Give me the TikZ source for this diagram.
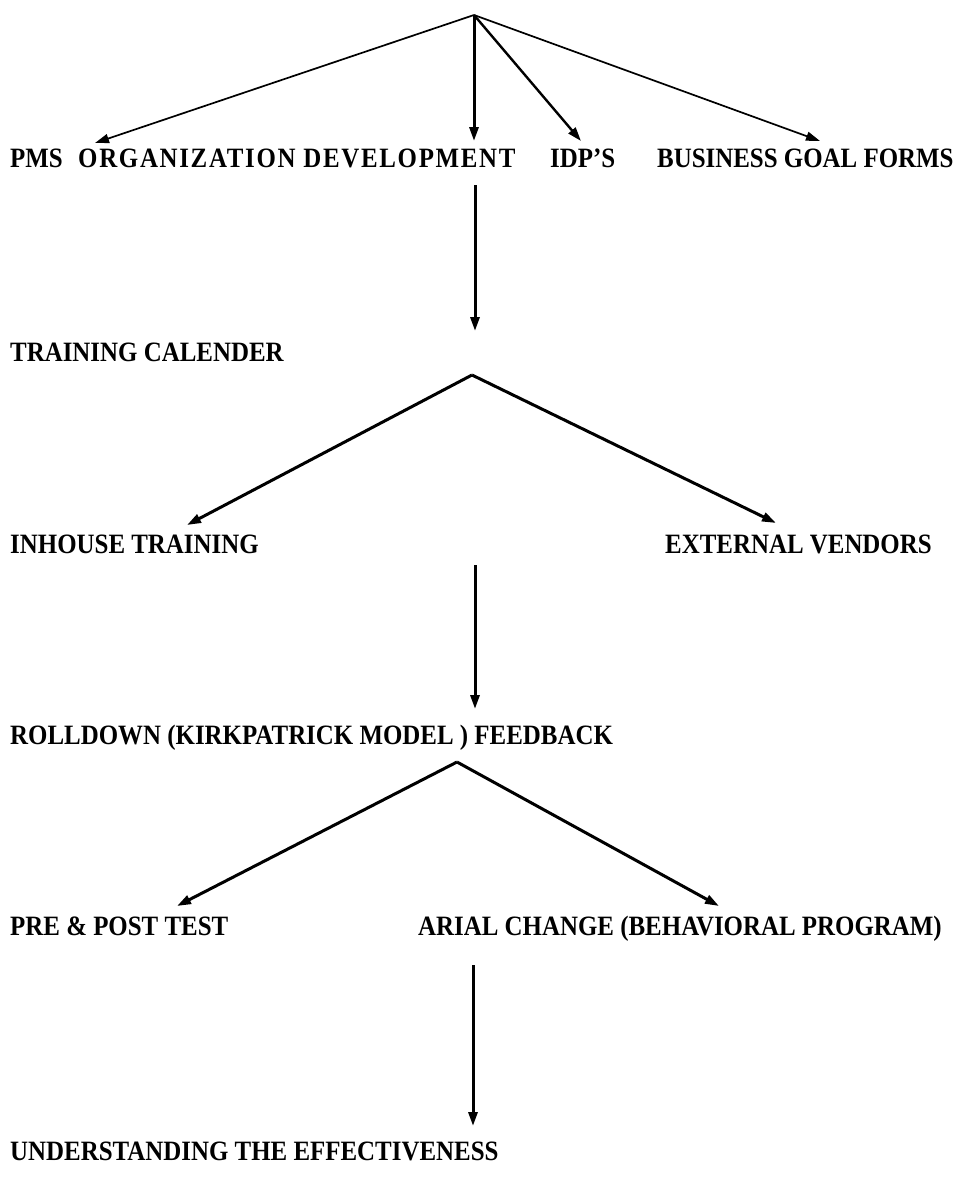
\documentclass[tikz,border=0pt]{standalone}
\usepackage{fontspec}
\setmainfont{Liberation Serif}[FakeStretch=0.89]
\usetikzlibrary{arrows.meta}
\begin{document}
\begin{tikzpicture}[x=1pt,y=-1pt,
  lbl/.style={anchor=base west,inner sep=0pt,font=\fontsize{28}{32}\selectfont\bfseries},
  arr/.style={draw,line width=#1,-{Triangle[length=14pt,width=9pt]}},
  arr/.default=3pt]
\useasboundingbox (0,0) rectangle (959,1195);

\node[lbl] (pms) at (10,167) {PMS};
\node[lbl] (od) at (78,167) {\addfontfeature{LetterSpace=6}ORGANIZATION DEVELOPMENT};
\node[lbl] (idp) at (550,167) {IDP’S};
\node[lbl] (bgf) at (657,167) {BUSINESS GOAL FORMS};
\node[lbl] (tc) at (10,361) {TRAINING CALENDER};
\node[lbl] (iht) at (10,553) {INHOUSE TRAINING};
\node[lbl] (ev) at (665,553) {EXTERNAL VENDORS};
\node[lbl] (rf) at (10,744) {ROLLDOWN (KIRKPATRICK MODEL ) FEEDBACK};
\node[lbl] (ppt) at (10,935) {PRE \& POST TEST};
\node[lbl] (ac) at (418,935) {ARIAL CHANGE (BEHAVIORAL PROGRAM)};
\node[lbl] (ute) at (10,1160) {UNDERSTANDING THE EFFECTIVENESS};

\coordinate (1) at (474,15);
\coordinate (2) at (472,375);
\coordinate (3) at (457,762);

\path[arr=1.7pt] (1) -- (95,143);
\path[arr] (1) -- (474,141);
\path[arr=2.4pt] (1) -- (581,141);
\path[arr=1.7pt] (1) -- (820,141);
\path[arr] (475,185) -- (475,331);
\path[arr] (2) -- (187,525);
\path[arr] (2) -- (776,523);
\path[arr] (475,565) -- (475,709);
\path[arr] (3) -- (177,906);
\path[arr] (3) -- (719,906);
\path[arr] (473,965) -- (473,1126);
\end{tikzpicture}
\end{document}
